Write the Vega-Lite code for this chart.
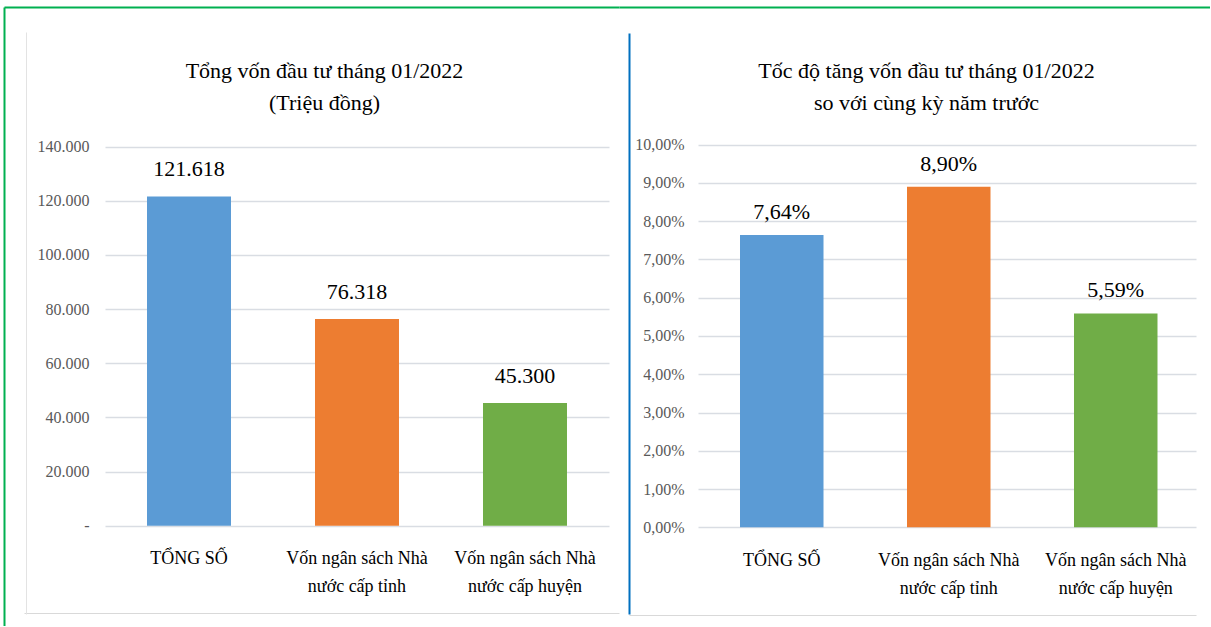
{
  "$schema": "https://vega.github.io/schema/vega-lite/v6.json",
  "background": "white",
  "padding": {"left": 4, "top": 7, "right": 0, "bottom": 0},
  "spacing": 0,
  "bounds": "flush",
  "config": {
    "locale": {"number": {"decimal": ",", "thousands": ".", "grouping": [3], "currency": ["", " đ"]}},
    "view": {"stroke": null},
    "font": "Liberation Serif",
    "text": {"font": "Liberation Serif"},
    "axis": {"labelFont": "Liberation Serif", "titleFont": "Liberation Serif"},
    "title": {"font": "Liberation Serif"}
  },
  "hconcat": [
    {
      "width": 615,
      "height": 619,
      "title": {"text": ["Tổng vốn đầu tư tháng 01/2022", "(Triệu đồng)"], "font": "Liberation Serif", "fontSize": 22, "fontWeight": "normal", "color": "#000000", "lineHeight": 32, "offset": -108, "anchor": "middle", "frame": "group", "dx": 13},
      "data": {"values": [
        {"cat": "TỔNG SỐ", "value": 121618},
        {"cat": "Vốn ngân sách Nhà nước cấp tỉnh", "value": 76318},
        {"cat": "Vốn ngân sách Nhà nước cấp huyện", "value": 45300}
      ]},
      "layer": [
        {
          "mark": {"type": "bar"},
          "encoding": {
            "x": {"field": "cat", "type": "nominal", "sort": null,
              "scale": {"type": "band", "paddingInner": 0.5, "paddingOuter": 0.5804, "align": 0.7333},
              "axis": {"orient": "bottom", "title": null, "labelAngle": 0, "domain": false, "ticks": false, "offset": -100.3, "labelPadding": 24, "labelFont": "Liberation Serif", "labelFontSize": 18, "labelColor": "#000000", "labelLineHeight": 28, "labelLimit": 300,
                "labelExpr": "indexof(datum.label, ' nước') > 0 ? [substring(datum.label, 0, indexof(datum.label, ' nước')), substring(datum.label, indexof(datum.label, ' nước') + 1)] : datum.label"}},
            "y": {"field": "value", "type": "quantitative",
              "scale": {"domain": [-37051, 191608], "nice": false, "zero": false},
              "axis": {"orient": "left", "title": null, "offset": -101, "values": [0, 20000, 40000, 60000, 80000, 100000, 120000, 140000], "format": ",.0f", "labelExpr": "datum.value == 0 ? '-' : datum.label", "domain": false, "ticks": false, "labelPadding": 16, "labelFont": "Liberation Serif", "labelFontSize": 16, "labelColor": "#595959", "grid": true, "gridColor": "#d9dde3", "gridWidth": 1.3, "gridDash": [0, 101, 504, 100]}},
            "y2": {"datum": 0},
            "color": {"field": "cat", "type": "nominal", "sort": null, "scale": {"range": ["#5B9BD5", "#ED7D31", "#70AD47"]}, "legend": null}
          }
        },
        {
          "mark": {"type": "text", "dy": -20, "baseline": "alphabetic", "align": "center", "font": "Liberation Serif", "fontSize": 22, "color": "#000000"},
          "encoding": {
            "x": {"field": "cat", "type": "nominal", "sort": null,
              "scale": {"type": "band", "paddingInner": 0.5, "paddingOuter": 0.5804, "align": 0.7333},
              "axis": {"orient": "bottom", "offset": -13, "title": null, "labels": false, "ticks": false, "domain": true, "domainColor": "#d9d9d9", "domainDash": [0, 20, 595, 50], "grid": false}},
            "y": {"field": "value", "type": "quantitative",
              "scale": {"domain": [-37051, 191608], "nice": false, "zero": false},
              "axis": {"orient": "left", "offset": -22, "title": null, "labels": false, "ticks": false, "grid": false, "domain": true, "domainColor": "#e3e3e3", "domainDash": [0, 12, 582, 50]}},
            "text": {"field": "value", "type": "quantitative", "format": ",.0f"}
          }
        },
        {
          "mark": {"type": "point", "opacity": 0},
          "encoding": {
            "x": {"field": "cat", "type": "nominal", "sort": null,
              "scale": {"type": "band", "paddingInner": 0.5, "paddingOuter": 0.5804, "align": 0.7333},
              "axis": {"orient": "top", "offset": 0, "title": null, "labels": false, "ticks": false, "grid": false, "domain": true, "domainColor": "#00B050", "domainWidth": 2}},
            "y": {"field": "value", "type": "quantitative",
              "scale": {"domain": [-37051, 191608], "nice": false, "zero": false},
              "axis": {"orient": "left", "offset": 0, "title": null, "labels": false, "ticks": false, "grid": false, "domain": true, "domainColor": "#00B050", "domainWidth": 2}}
          }
        }
      ],
      "resolve": {"scale": {"x": "independent", "y": "independent"}}
    },
    {
      "width": 591,
      "height": 619,
      "title": {"text": ["Tốc độ tăng vốn đầu tư tháng 01/2022", "so với cùng kỳ năm trước"], "font": "Liberation Serif", "fontSize": 22, "fontWeight": "normal", "color": "#000000", "lineHeight": 32, "offset": -108, "anchor": "middle", "frame": "group", "dx": 12},
      "data": {"values": [
        {"cat": "TỔNG SỐ", "rate": 0.0764},
        {"cat": "Vốn ngân sách Nhà nước cấp tỉnh", "rate": 0.089},
        {"cat": "Vốn ngân sách Nhà nước cấp huyện", "rate": 0.0559}
      ]},
      "layer": [
        {
          "mark": {"type": "bar"},
          "encoding": {
            "x": {"field": "cat", "type": "nominal", "sort": null,
              "scale": {"type": "band", "paddingInner": 0.5, "paddingOuter": 0.5195, "align": 0.6974},
              "axis": {"orient": "bottom", "title": null, "labelAngle": 0, "domain": false, "ticks": false, "offset": -98.7, "labelPadding": 24, "labelFont": "Liberation Serif", "labelFontSize": 18, "labelColor": "#000000", "labelLineHeight": 28, "labelLimit": 300,
                "labelExpr": "indexof(datum.label, ' nước') > 0 ? [substring(datum.label, 0, indexof(datum.label, ' nước')), substring(datum.label, indexof(datum.label, ' nước') + 1)] : datum.label"}},
            "y": {"field": "rate", "type": "quantitative",
              "scale": {"domain": [-0.0258, 0.13599], "nice": false, "zero": false},
              "axis": {"orient": "left", "title": null, "offset": -79, "values": [0, 0.01, 0.02, 0.03, 0.04, 0.05, 0.06, 0.07, 0.08, 0.09, 0.1], "format": ".2%", "domain": false, "ticks": false, "labelPadding": 14, "labelFont": "Liberation Serif", "labelFontSize": 16, "labelColor": "#595959", "grid": true, "gridColor": "#d9dde3", "gridWidth": 1.3, "gridDash": [0, 79, 498, 100]}},
            "y2": {"datum": 0},
            "color": {"field": "cat", "type": "nominal", "sort": null, "scale": {"range": ["#5B9BD5", "#ED7D31", "#70AD47"]}, "legend": null}
          }
        },
        {
          "mark": {"type": "text", "dy": -16, "baseline": "alphabetic", "align": "center", "font": "Liberation Serif", "fontSize": 22, "color": "#000000"},
          "encoding": {
            "x": {"field": "cat", "type": "nominal", "sort": null,
              "scale": {"type": "band", "paddingInner": 0.5, "paddingOuter": 0.5195, "align": 0.6974},
              "axis": {"orient": "bottom", "offset": -11, "title": null, "labels": false, "ticks": false, "domain": true, "domainColor": "#d9d9d9", "domainDash": [0, 10, 567, 50], "grid": false}},
            "y": {"field": "rate", "type": "quantitative",
              "scale": {"domain": [-0.0258, 0.13599], "nice": false, "zero": false},
              "axis": {"orient": "left", "offset": -10, "title": null, "labels": false, "ticks": false, "grid": false, "domain": true, "domainColor": "#0070C0", "domainWidth": 2, "domainDash": [0, 12, 581, 50]}},
            "text": {"field": "rate", "type": "quantitative", "format": ".2%"}
          }
        },
        {
          "mark": {"type": "point", "opacity": 0},
          "encoding": {
            "x": {"field": "cat", "type": "nominal", "sort": null,
              "scale": {"type": "band", "paddingInner": 0.5, "paddingOuter": 0.5195, "align": 0.6974},
              "axis": {"orient": "top", "offset": 0, "title": null, "labels": false, "ticks": false, "grid": false, "domain": true, "domainColor": "#00B050", "domainWidth": 2}},
            "y": {"field": "rate", "type": "quantitative",
              "scale": {"domain": [-0.0258, 0.13599], "nice": false, "zero": false},
              "axis": null}
          }
        }
      ],
      "resolve": {"scale": {"x": "independent", "y": "independent"}}
    }
  ]
}
